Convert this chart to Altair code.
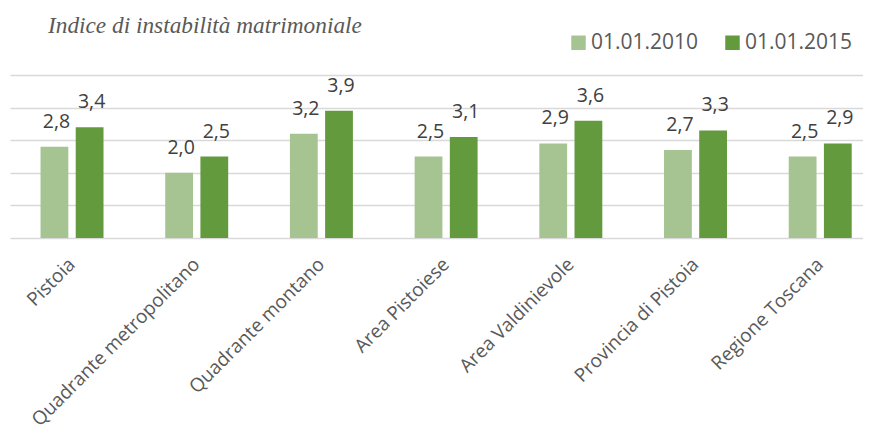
import altair as alt
import pandas as pd

categories = ["Pistoia", "Quadrante metropolitano", "Quadrante montano",
              "Area Pistoiese", "Area Valdinievole", "Provincia di Pistoia",
              "Regione Toscana"]
series = ["01.01.2010", "01.01.2015"]
v2010 = [2.8, 2.0, 3.2, 2.5, 2.9, 2.7, 2.5]
v2015 = [3.4, 2.5, 3.9, 3.1, 3.6, 3.3, 2.9]
colors = ["#a5c491", "#639a3e"]

rows = []
for c, a, b in zip(categories, v2010, v2015):
    rows.append({"cat": c, "serie": series[0], "val": a,
                 "lab": f"{a:.1f}".replace(".", ",")})
    rows.append({"cat": c, "serie": series[1], "val": b,
                 "lab": f"{b:.1f}".replace(".", ",")})
df = pd.DataFrame(rows)

x = alt.X("cat:N", sort=categories,
          scale=alt.Scale(paddingInner=0.495, paddingOuter=0.1677, align=0.73),
          axis=alt.Axis(title=None, labelAngle=-45, labelAlign="right",
                        labelBaseline="middle", labelPadding=23, ticks=False,
                        domain=False, labelFont="Open Sans", labelFontSize=19,
                        labelColor="#595959", labelLimit=0, labelOverlap=False))
xo = alt.XOffset("serie:N", sort=series,
                 scale=alt.Scale(paddingInner=0.21, paddingOuter=0))
y = alt.Y("val:Q", scale=alt.Scale(domain=[0, 5]),
          axis=alt.Axis(title=None, labels=False, ticks=False, domain=False,
                        values=[0, 1, 2, 3, 4, 5], gridColor="#d9d9d9",
                        gridWidth=1.5))

bars = alt.Chart(df).mark_bar().encode(
    x=x, xOffset=xo, y=y,
    color=alt.Color("serie:N", sort=series,
                    scale=alt.Scale(domain=series, range=colors),
                    legend=alt.Legend(title=None, orient="none", legendX=558,
                                      legendY=-43, direction="horizontal",
                                      symbolType="square", symbolSize=210,
                                      symbolStrokeWidth=0, labelFont="Open Sans",
                                      labelFontSize=21, labelColor="#595959",
                                      labelOffset=2, columnPadding=23,
                                      padding=0))
)

texts = alt.Chart(df).mark_text(baseline="alphabetic", dy=-19, dx=2,
                                font="Open Sans", fontSize=19.5,
                                color="#404040").encode(
    x=x, xOffset=xo, y=y, text="lab:N"
)

chart = alt.layer(bars, texts).properties(
    width=853, height=163,
    padding={"left": 2, "top": 5, "right": 0, "bottom": 2},
    title=alt.Title("Indice di instabilità matrimoniale", font="Liberation Serif",
                    fontStyle="italic", fontWeight="normal", fontSize=23.3,
                    color="#595959", anchor="start", frame="group", dx=38,
                    offset=-6)
).configure_view(stroke=None)

chart.save("out.html", embed_options={"renderer": "svg", "actions": False})
